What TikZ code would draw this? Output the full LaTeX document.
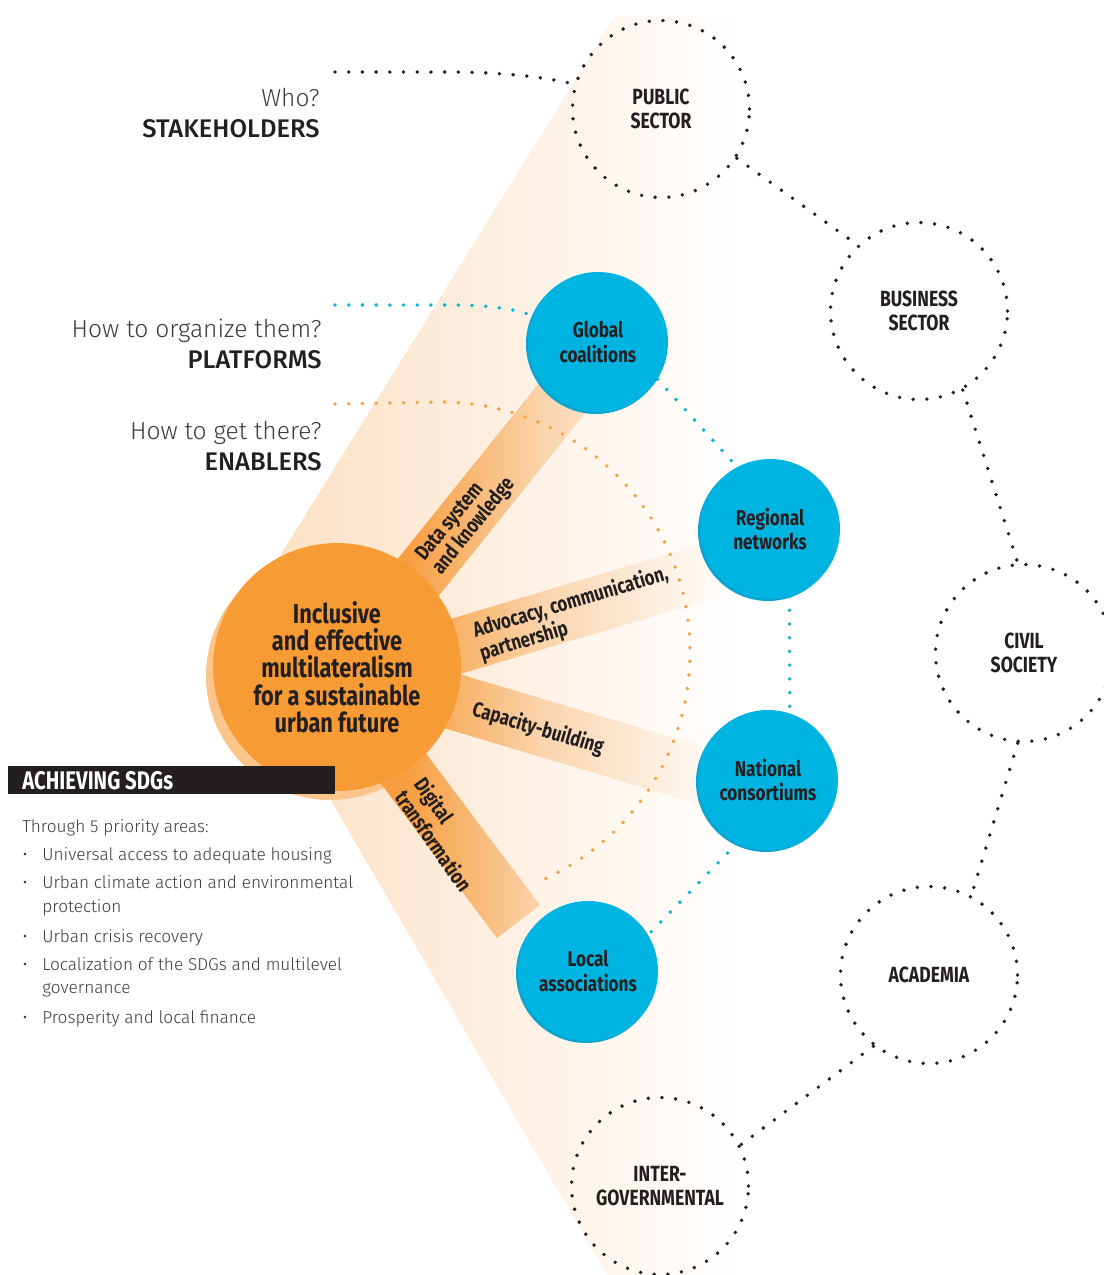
\documentclass[tikz,border=0pt]{standalone}
\usepackage{fontspec}
\setmainfont{Fira Sans}
\newfontfamily\condfont[FakeStretch=0.8]{Fira Sans}
\newfontfamily\lightfont{Fira Sans Light}
\newfontfamily\medfont{Fira Sans Medium}
\usetikzlibrary{calc}

\definecolor{inkblack}{HTML}{231F20}
\definecolor{softgrey}{HTML}{3C3C3C}
\definecolor{huborange}{HTML}{F79B35}
\definecolor{hubshadow}{HTML}{FBC58C}
\definecolor{rayorange}{HTML}{F79E40}
\definecolor{raypeach}{HTML}{FAD5AE}
\definecolor{fanpeach}{HTML}{FCDFC2}
\definecolor{platblue}{HTML}{00B4E2}
\definecolor{platshadow}{HTML}{0CA3CF}
\definecolor{dotorange}{HTML}{F7A140}

\tikzset{
  dotline/.style={line width=2.2pt, line cap=round, dash pattern=on 0pt off 7.8pt},
  stakeholder/.style={circle, minimum size=3.54cm, inner sep=0pt, draw=inkblack, dotline,
    align=center, text=inkblack, font=\condfont\bfseries\fontsize{12.5}{13.8}\selectfont},
  platform/.style={circle, minimum size=2.8cm, inner sep=0pt, fill=platblue,
    align=center, text=inkblack, font=\condfont\bfseries\fontsize{12.2}{13.8}\selectfont},
  hub/.style={circle, minimum size=4.96cm, inner sep=0pt, fill=huborange,
    align=center, text=inkblack, font=\condfont\bfseries\fontsize{15.5}{15.6}\selectfont},
  enabler/.style={inner sep=0pt, align=left, text=inkblack,
    font=\condfont\bfseries\fontsize{12}{12.2}\selectfont},
  question/.style={anchor=base east, inner sep=0pt, text=softgrey,
    font=\lightfont\fontsize{14}{16}\selectfont},
  answer/.style={anchor=base east, inner sep=0pt, text=inkblack,
    font=\medfont\fontsize{14.5}{16}\selectfont},
  listtext/.style={anchor=base west, inner sep=0pt, text=softgrey,
    font=\lightfont\fontsize{9.8}{12}\selectfont},
}

\begin{document}
\begin{tikzpicture}[x=0.02cm, y=-0.02cm]
  \useasboundingbox (0,0) rectangle (1103,1275);

  % fan behind the hub
  \begin{scope}
    \clip (615,16) -- (265,580) -- (337,669) -- (319,780) -- (607,1275)
      -- (740,1275) -- (740,16) -- cycle;
    \shade[left color=fanpeach, right color=white] (250,0) rectangle (740,1275);
  \end{scope}
  \fill[hubshadow] (330,676) circle [radius=124];

  % enabler rays
  \begin{scope}
    \clip (372,591) -- (543,378) -- (586,412) -- (412,629) -- cycle
      (400,634) -- (725,537) -- (725,595) -- (460,674) -- (420,686) -- cycle
      (422,663) -- (725,753) -- (725,812) -- (407,717) -- cycle
      (364,761) -- (497,938) -- (540,905) -- (409,731) -- cycle;
    \fill[rayorange] (300,300) rectangle (405,960);
    \shade[left color=rayorange, right color=raypeach] (405,300) rectangle (545,960);
    \shade[left color=raypeach, right color=white] (545,300) rectangle (730,960);
  \end{scope}

  \node[hub] (hub) at (337,667)
    {Inclusive\\and effective\\multilateralism\\for a sustainable\\urban future};

  \node[enabler, rotate=51] (data) at (466,520) {Data system\\and knowledge};
  \node[enabler, rotate=16.6] (advo) at (574,614) {Advocacy, communication,\\partnership};
  \node[enabler, rotate=-16.5] (capa) at (538,729) {Capacity-building};
  \node[enabler, rotate=-55] (digi) at (444,834) {Digital\\transformation};

  \draw[dotline, dotorange] (335,404) -- (440,402) arc [start angle=-90, end angle=68, radius=250];

  % platforms
  \foreach \cx/\cy in {598/342, 770/529, 768/780, 588/971}
    \fill[platshadow] (\cx-2,\cy+2) circle [radius=70];
  \node[platform] (glob) at (598,342) {Global\\coalitions};
  \node[platform] (regn) at (770,529) {Regional\\networks};
  \node[platform] (natl) at (768,780) {National\\consortiums};
  \node[platform] (locl) at (588,971) {Local\\associations};

  \draw[dotline, platblue] (335,305) -- (450,305) .. controls (490,305) and (515,309) .. (glob.158);
  \draw[dotline, platblue] (glob.-32) -- (regn.118);
  \draw[dotline, platblue] (regn.-74) -- (natl.72);
  \draw[dotline, platblue] (natl.-116) -- (locl.31);

  % stakeholders
  \node[stakeholder] (pub) at (661,109) {PUBLIC\\SECTOR};
  \node[stakeholder] (bus) at (919,311) {BUSINESS\\SECTOR};
  \node[stakeholder] (civ) at (1024,653) {CIVIL\\SOCIETY};
  \node[stakeholder] (aca) at (929,975) {ACADEMIA};
  \node[stakeholder] (intg) at (660,1186) {INTER-\\GOVERNMENTAL};

  \draw[dotline, inkblack] (335,72) -- (450,72) .. controls (500,72) and (545,77) .. (pub.164);
  \draw[dotline, inkblack] (pub.-33) -- (bus.133);
  \draw[dotline, inkblack] (bus.-61) -- (civ.94);
  \draw[dotline, inkblack] (civ.-94) -- (aca.62);
  \draw[dotline, inkblack] (aca.-128) -- (intg.27);

  % questions on the left
  \node[question] (who) at (320,106) {Who?};
  \node[answer] (stake) at (320,137) {STAKEHOLDERS};
  \node[question] (howorg) at (322,337) {How to organize them?};
  \node[answer] (plat) at (322,368) {PLATFORMS};
  \node[question] (howget) at (322,439) {How to get there?};
  \node[answer] (enab) at (322,470) {ENABLERS};

  % SDG box
  \fill[inkblack] (8,766) rectangle (335,794);
  \node[anchor=base west, inner sep=0pt, text=white,
    font=\condfont\bfseries\fontsize{14.5}{15}\selectfont] (sdgs) at (22,789) {ACHIEVING SDGs};
  \node[listtext] (through) at (22,832) {Through 5 priority areas:};
  \foreach \yy/\line [count=\i] in {860/Universal access to adequate housing,
      888/Urban climate action and environmental, 912/protection,
      942/Urban crisis recovery, 970/Localization of the SDGs and multilevel,
      993/governance, 1023/Prosperity and local finance}
    \node[listtext] (item\i) at (42,\yy) {\line};
  \foreach \yy [count=\i] in {860,888,942,970,1023}
    \node[listtext, anchor=base] (dot\i) at (25,\yy) {•};
\end{tikzpicture}
\end{document}
